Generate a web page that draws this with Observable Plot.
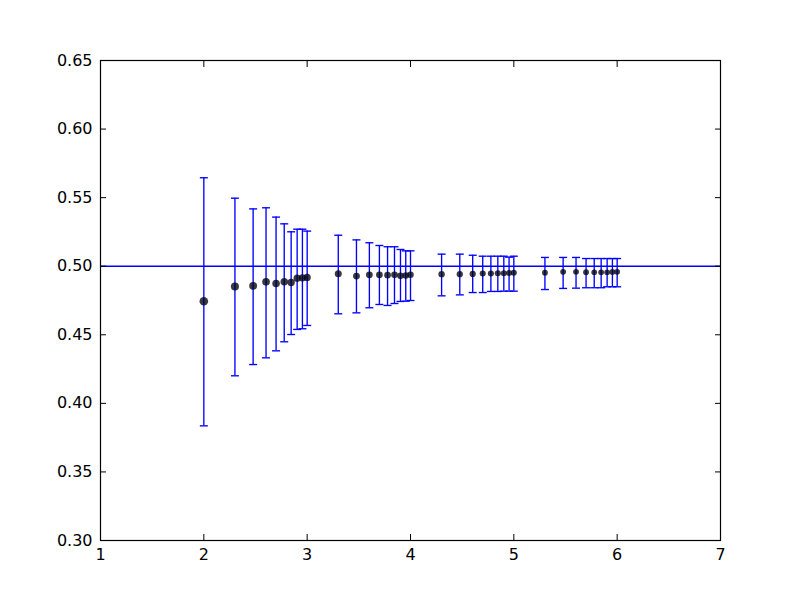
<!DOCTYPE html>
<html>
<head>
<meta charset="utf-8">
<script src="https://cdn.jsdelivr.net/npm/d3@7"></script>
<script src="https://cdn.jsdelivr.net/npm/@observablehq/plot@0.6"></script>
<style>
  html, body { margin: 0; padding: 0; background: white; }
  #chart svg { display: block; }
</style>
</head>
<body>
<div id="chart"></div>
<script>
const xs = [
  2, 2.301, 2.477, 2.602, 2.699, 2.778, 2.845, 2.903, 2.954,
  3, 3.301, 3.477, 3.602, 3.699, 3.778, 3.845, 3.903, 3.954,
  4, 4.301, 4.477, 4.602, 4.699, 4.778, 4.845, 4.903, 4.954,
  5, 5.301, 5.477, 5.602, 5.699, 5.778, 5.845, 5.903, 5.954,
  6
];
const means = [
  0.4745, 0.4852, 0.4857, 0.4886, 0.4874, 0.4886, 0.4881, 0.4913, 0.4915,
  0.4918, 0.4945, 0.4928, 0.4937, 0.4937, 0.4935, 0.4937, 0.4930, 0.4932,
  0.4937, 0.4942, 0.4942, 0.4944, 0.4947, 0.4947, 0.4949, 0.4948, 0.4950,
  0.4952, 0.4952, 0.4959, 0.4959, 0.4956, 0.4956, 0.4956, 0.4956, 0.4958,
  0.4959
];
const uppers = [
  0.5645, 0.5496, 0.5418, 0.5426, 0.5358, 0.5309, 0.5251, 0.5270, 0.5270,
  0.5256, 0.5226, 0.5192, 0.5171, 0.5151, 0.5142, 0.5142, 0.5122, 0.5112,
  0.5112, 0.5088, 0.5088, 0.5080, 0.5073, 0.5073, 0.5073, 0.5073, 0.5066,
  0.5073, 0.5064, 0.5064, 0.5064, 0.5056, 0.5056, 0.5056, 0.5056, 0.5056,
  0.5056
];
const lowers = [
  0.3836, 0.4201, 0.4283, 0.4332, 0.4383, 0.4449, 0.4502, 0.4539, 0.4544,
  0.4568, 0.4653, 0.4660, 0.4697, 0.4721, 0.4714, 0.4728, 0.4743, 0.4745,
  0.4750, 0.4784, 0.4791, 0.4808, 0.4808, 0.4816, 0.4816, 0.4818, 0.4818,
  0.4818, 0.4830, 0.4838, 0.4840, 0.4843, 0.4843, 0.4843, 0.4850, 0.4850,
  0.4850
];
const radii = [
  4.5, 4.0, 3.8, 3.6, 3.5, 3.4, 3.3, 3.2, 3.2,
  3.2, 3.0, 2.9, 2.8, 2.8, 2.7, 2.7, 2.7, 2.6,
  2.6, 2.5, 2.4, 2.4, 2.3, 2.3, 2.3, 2.2, 2.2,
  2.2, 2.1, 2.1, 2.1, 2.1, 2.0, 2.0, 2.0, 2.0,
  2.0
];
const xTicks = [1, 2, 3, 4, 5, 6, 7];
const yTicks = [0.30, 0.35, 0.40, 0.45, 0.50, 0.55, 0.60, 0.65];
const refLine = [0.5];

const data = xs.map((x, i) => ({x, mean: means[i], lo: lowers[i], hi: uppers[i], r: radii[i]}));

const capSymbol = {
  draw(context, size) {
    const r = Math.sqrt(size / Math.PI);
    context.moveTo(-r, 0);
    context.lineTo(r, 0);
  }
};

const font = "DejaVu Sans, sans-serif";
const lw = 1.35;

const chart = Plot.plot({
  width: 800,
  height: 600,
  marginLeft: 100,
  marginRight: 80,
  marginTop: 60,
  marginBottom: 60,
  style: {fontFamily: font, fontSize: "16px", color: "black", background: "white"},
  x: {domain: [1, 7]},
  y: {domain: [0.30, 0.65]},
  marks: [
    Plot.ruleY(refLine, {stroke: "#0000ff", strokeWidth: lw}),
    Plot.ruleX(data, {x: "x", y1: "lo", y2: "hi", stroke: "#0000ff", strokeWidth: lw}),
    Plot.dot(data, {x: "x", y: "lo", r: 4, symbol: capSymbol, stroke: "#0000ff", strokeWidth: lw, fill: "none"}),
    Plot.dot(data, {x: "x", y: "hi", r: 4, symbol: capSymbol, stroke: "#0000ff", strokeWidth: lw, fill: "none"}),
    Plot.dot(data, {x: "x", y: "mean", r: "r", fill: "#000010", fillOpacity: 0.78, stroke: "none"}),
    Plot.axisX({anchor: "bottom", ticks: xTicks, tickSize: -6, tickPadding: 14, tickFormat: d3.format("d"), label: null, fontSize: 16}),
    Plot.axisX({anchor: "top", ticks: xTicks, tickSize: -6, tickFormat: () => "", label: null}),
    Plot.axisY({anchor: "left", ticks: yTicks, tickSize: -6, tickPadding: 14, tickFormat: d3.format(".2f"), label: null, fontSize: 16}),
    Plot.axisY({anchor: "right", ticks: yTicks, tickSize: -6, tickFormat: () => "", label: null}),
    Plot.frame({stroke: "black", strokeWidth: 1.2})
  ]
});
document.getElementById("chart").appendChild(chart);
</script>
</body>
</html>
